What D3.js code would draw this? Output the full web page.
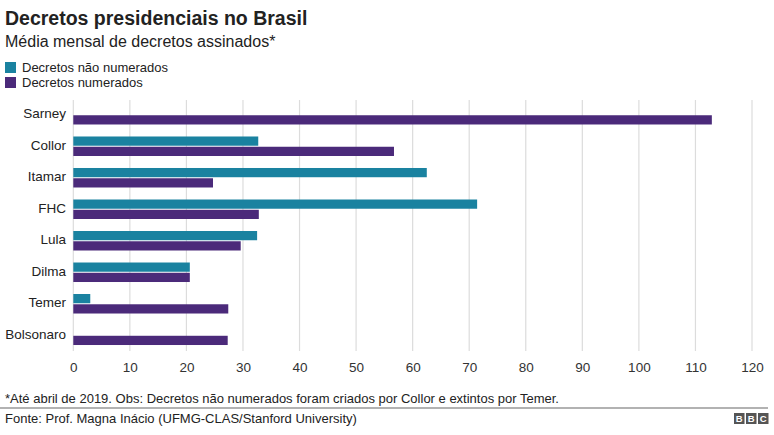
<!DOCTYPE html>
<html><head><meta charset="utf-8">
<script src="https://cdn.jsdelivr.net/npm/d3@7"></script>
<style>body{margin:0;background:#fff;}svg{display:block;font-family:"Liberation Sans",Arial,Helvetica,sans-serif;}</style>
</head><body><div id="chart"></div>
<script>
const categories = ["Sarney","Collor","Itamar","FHC","Lula","Dilma","Temer","Bolsonaro"];
const naoNumerados = [null, 32.7, 62.5, 71.4, 32.5, 20.6, 3.0, null];
const numerados = [112.9, 56.7, 24.7, 32.8, 29.6, 20.6, 27.4, 27.3];
const seriesNames = ["Decretos não numerados","Decretos numerados"];
const xTicks = [0,10,20,30,40,50,60,70,80,90,100,110,120];
const colors = ["#1a82a0","#4b2a7a"];

const W = 774, H = 435;
const svg = d3.select("#chart").append("svg").attr("width",W).attr("height",H);

svg.append("text").attr("x",5).attr("y",25).attr("font-size",19.5).attr("font-weight","bold").attr("fill","#222").text("Decretos presidenciais no Brasil");
svg.append("text").attr("x",5).attr("y",47).attr("font-size",16).attr("fill","#222").text("Média mensal de decretos assinados*");

// legend
seriesNames.forEach((s,i)=>{
  const g = svg.append("g").attr("transform",`translate(5,${62+i*15})`);
  g.append("rect").attr("width",11).attr("height",11).attr("fill",colors[i]);
  g.append("text").attr("x",17).attr("y",10).attr("font-size",13).attr("fill","#222").text(s);
});

const x = d3.scaleLinear().domain([0,120]).range([73.3,752]);
const y = d3.scaleBand().domain(categories).range([99,351]).paddingInner(0.381).paddingOuter(0.19);
const ySub = d3.scaleBand().domain([0,1]).range([0,y.bandwidth()]).paddingInner(0.1);

// gridlines
svg.append("g").selectAll("line").data(xTicks).join("line")
  .attr("x1",d=>x(d)).attr("x2",d=>x(d)).attr("y1",100).attr("y2",351)
  .attr("stroke","#dcdcdc").attr("stroke-width",1.2);

// x axis
const xAxis = d3.axisBottom(x).tickValues(xTicks).tickSize(0).tickPadding(0);
const gx = svg.append("g").attr("transform","translate(0,362)").call(xAxis);
gx.select(".domain").remove();
gx.selectAll("text").attr("font-size",13.5).attr("fill","#333").attr("font-family","Liberation Sans, Arial, sans-serif");

// y axis labels
const yAxis = d3.axisLeft(y).tickSize(0).tickPadding(0);
const gy = svg.append("g").attr("transform","translate(66,-1)").call(yAxis);
gy.select(".domain").remove();
gy.selectAll("text").attr("font-size",13.5).attr("fill","#222").attr("font-family","Liberation Sans, Arial, sans-serif");

// bars
const rows = categories.map((c,i)=>({cat:c, vals:[naoNumerados[i], numerados[i]]}));
const gb = svg.append("g");
rows.forEach(r=>{
  r.vals.forEach((v,j)=>{
    if(v==null) return;
    gb.append("rect").attr("x",x(0)).attr("y",y(r.cat)+ySub(j))
      .attr("width",x(v)-x(0)).attr("height",ySub.bandwidth())
      .attr("fill",colors[j]);
  });
});

// footer
svg.append("text").attr("x",5).attr("y",403).attr("font-size",13).attr("fill","#222").text("*Até abril de 2019. Obs: Decretos não numerados foram criados por Collor e extintos por Temer.");
svg.append("line").attr("x1",0).attr("x2",768).attr("y1",408).attr("y2",408).attr("stroke","#666").attr("stroke-width",1.2);
svg.append("text").attr("x",5).attr("y",423).attr("font-size",13).attr("fill","#222").text("Fonte: Prof. Magna Inácio (UFMG-CLAS/Stanford University)");
["B","B","C"].forEach((l,i)=>{
  const bx = 734 + i*12;
  svg.append("rect").attr("x",bx).attr("y",413).attr("width",10.5).attr("height",11).attr("fill","#555");
  svg.append("text").attr("x",bx+5.25).attr("y",422).attr("text-anchor","middle").attr("font-size",9.5).attr("font-weight","bold").attr("fill","#fff").text(l);
});
</script></body></html>
